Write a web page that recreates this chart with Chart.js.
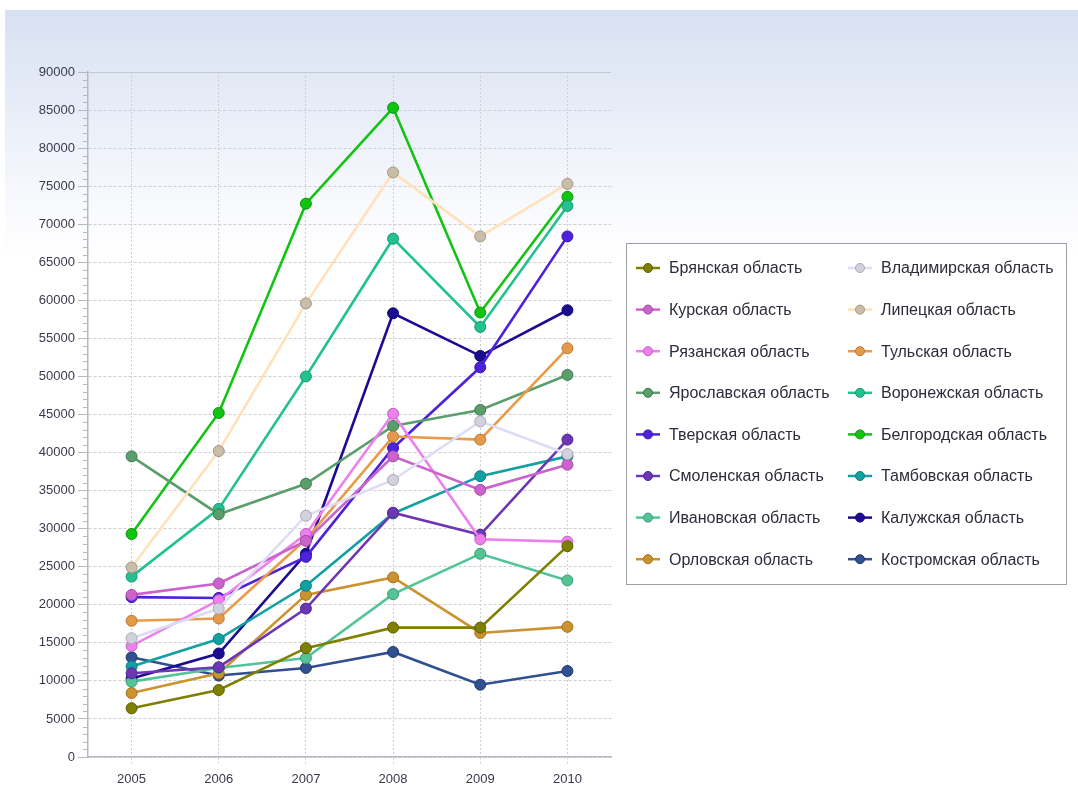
<!DOCTYPE html>
<html>
<head>
<meta charset="utf-8">
<script src="https://cdn.jsdelivr.net/npm/chart.js@4/dist/chart.umd.min.js"></script>
<style>
    html, body { margin: 0; padding: 0; background: #ffffff; }
    .panel {
        position: absolute; left: 5px; top: 10px; width: 1073px; height: 795px;
        background: linear-gradient(to bottom, #d8e1f2 0px, #e6ecf7 90px, #f8f9fd 190px, #ffffff 250px);
    }
    .wrap { position: absolute; left: 0; top: 0; width: 1078px; height: 809px; }
</style>
</head>
<body>
<div class="panel"></div>
<div class="wrap"><canvas class="my_chart"></canvas></div>
<script>
const years = ['2005', '2006', '2007', '2008', '2009', '2010'];

const regions = [
    'Брянская область', 'Владимирская область',
    'Курская область', 'Липецкая область',
    'Рязанская область', 'Тульская область',
    'Ярославская область', 'Воронежская область',
    'Тверская область', 'Белгородская область',
    'Смоленская область', 'Тамбовская область',
    'Ивановская область', 'Калужская область',
    'Орловская область', 'Костромская область'
];

const bryansk   = [6400, 8800, 14300, 17000, 17000, 27700];
const vladimir  = [15600, 19500, 31700, 36400, 44100, 39800];
const kursk     = [21300, 22800, 28400, 39500, 35100, 38400];
const lipetsk   = [24900, 40200, 59600, 76800, 68400, 75300];
const ryazan    = [14600, 20600, 29300, 45100, 28600, 28300];
const tula      = [17900, 18200, 28600, 42100, 41700, 53700];
const yaroslavl = [39500, 31900, 35900, 43500, 45600, 50200];
const voronezh  = [23700, 32600, 50000, 68100, 56500, 72400];
const tver      = [21000, 20900, 26300, 40600, 51200, 68400];
const belgorod  = [29300, 45200, 72700, 85300, 58400, 73600];
const smolensk  = [11000, 11800, 19500, 32100, 29200, 41700];
const tambov    = [11900, 15500, 22500, 32000, 36900, 39500];
const ivanovo   = [9900, 11700, 13000, 21400, 26700, 23200];
const kaluga    = [10300, 13600, 26700, 58300, 52700, 58700];
const orel      = [8400, 11000, 21300, 23600, 16300, 17100];
const kostroma  = [13100, 10700, 11700, 13800, 9500, 11300];

const series = [bryansk, vladimir, kursk, lipetsk, ryazan, tula, yaroslavl, voronezh,
                tver, belgorod, smolensk, tambov, ivanovo, kaluga, orel, kostroma];

// line colour, marker fill, marker border
const lineColors = ['#7f7f00', '#dcdcf6', '#cc62cc', '#ffe2bc', '#ee80ee', '#eb9a48', '#5a9e6c', '#22c290',
                    '#4e22dc', '#12c412', '#6c36b6', '#12a0a2', '#52c496', '#1c0c92', '#cc922e', '#30508f'];
const pointColors = ['#7f7f00', '#d2d2dc', '#cc62cc', '#c9bea8', '#ee80ee', '#e49a4a', '#5a9e6c', '#22c290',
                     '#4e22dc', '#12c412', '#6c36b6', '#12a0a2', '#52c496', '#1c0c92', '#cc922e', '#30508f'];
const pointBorders = ['#5e5e00', '#a8a8b8', '#a24ca2', '#a09480', '#c060c0', '#b87834', '#3e7a50', '#189670',
                      '#3a18a8', '#0c940c', '#502890', '#0c7c7e', '#3c9a74', '#120870', '#a07020', '#22386a'];

// y axis minor ticks, top border line and the two-column legend box
const extras = {
    id: 'extras',
    afterDraw(chart) {
        const c = chart.ctx;
        const y = chart.scales.y;
        const a = chart.chartArea;
        c.save();
        c.strokeStyle = '#b4b8c0';
        c.lineWidth = 1;
        for (let v = 0; v <= 90000; v += 1000) {
            if (v % 5000 === 0) continue;
            const py = Math.round(y.getPixelForValue(v)) + 0.5;
            c.beginPath();
            c.moveTo(a.left - 5, py);
            c.lineTo(a.left, py);
            c.stroke();
        }
        c.strokeStyle = '#c4c8d0';
        c.beginPath();
        c.moveTo(a.left, Math.round(a.top) + 0.5);
        c.lineTo(a.right, Math.round(a.top) + 0.5);
        c.stroke();

        // legend
        c.fillStyle = '#ffffff';
        c.fillRect(626, 243, 440, 341);
        c.strokeStyle = '#9a9ea6';
        c.strokeRect(626.5, 243.5, 440, 341);
        c.font = '16px "Liberation Sans", Arial, sans-serif';
        c.textBaseline = 'middle';
        chart.data.datasets.forEach((ds, i) => {
            const row = Math.floor(i / 2);
            const col = i % 2;
            const x0 = 636 + col * 212;
            const yy = 268 + row * 41.6;
            c.strokeStyle = ds.borderColor;
            c.lineWidth = 2.5;
            c.beginPath();
            c.moveTo(x0, yy);
            c.lineTo(x0 + 24, yy);
            c.stroke();
            c.fillStyle = ds.pointBackgroundColor;
            c.strokeStyle = ds.pointBorderColor;
            c.lineWidth = 1;
            c.beginPath();
            c.arc(x0 + 12, yy, 4.5, 0, Math.PI * 2);
            c.fill();
            c.stroke();
            c.fillStyle = '#2c2c3c';
            c.fillText(ds.label, x0 + 33, yy + 1);
        });
        c.restore();
    }
};

document.addEventListener('DOMContentLoaded', () => {
    const ctx = document.querySelector('.my_chart').getContext('2d');

    const datasets = series.map((vals, i) => ({
        label: regions[i],
        data: vals,
        borderColor: lineColors[i],
        backgroundColor: lineColors[i],
        pointBackgroundColor: pointColors[i],
        pointBorderColor: pointBorders[i],
        pointBorderWidth: 1,
        pointRadius: 5.5,
        borderWidth: 2.6,
        tension: 0,
        fill: false
    }));

    new Chart(ctx, {
        type: 'line',
        data: { labels: years, datasets: datasets },
        options: {
            responsive: true,
            maintainAspectRatio: false,
            animation: false,
            layout: { padding: { left: 0, top: 72, right: 467, bottom: 12 } },
            plugins: {
                legend: { display: false },
                tooltip: { enabled: false }
            },
            scales: {
                x: {
                    offset: true,
                    afterFit: (s) => { s.height = 40; },
                    grid: {
                        offset: false,
                        color: '#cdcfd3',
                        tickLength: 7,
                        tickColor: '#cdcfd3',
                        tickBorderDash: [2, 2]
                    },
                    border: { color: '#b4b8c0', width: 1.5, dash: [2, 2] },
                    ticks: {
                        color: '#3a3a4c',
                        padding: 8,
                        font: { family: '"Liberation Sans", Arial, sans-serif', size: 13 }
                    }
                },
                y: {
                    min: 0,
                    max: 90000,
                    afterFit: (s) => { s.width = 88; },
                    grid: {
                        color: '#cdcfd3',
                        tickLength: 10,
                        tickColor: '#b4b8c0',
                        tickBorderDash: []
                    },
                    border: { color: '#b4b8c0', width: 1.5, dash: [3, 2] },
                    ticks: {
                        stepSize: 5000,
                        color: '#3a3a4c',
                        padding: 3,
                        font: { family: '"Liberation Sans", Arial, sans-serif', size: 13 },
                        callback: (v) => String(v)
                    }
                }
            }
        },
        plugins: [extras]
    });
});
</script>
</body>
</html>
